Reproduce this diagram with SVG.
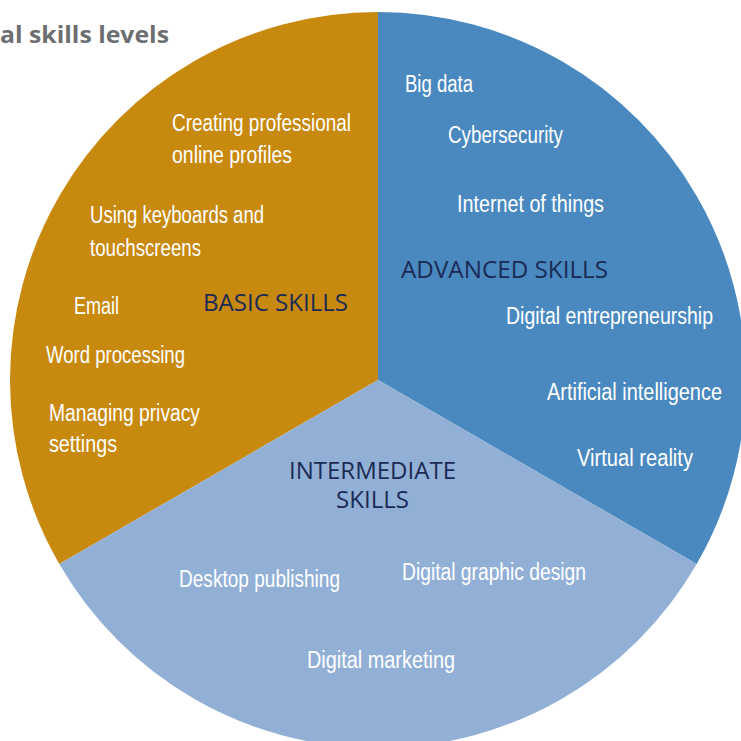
<svg xmlns="http://www.w3.org/2000/svg" width="741" height="741" viewBox="0 0 741 741">
<style>
.lbl{font-family:"Liberation Sans Narrow","Liberation Sans",Arial,sans-serif;font-size:23px;fill:#ffffff}
.hd{font-family:"Open Sans","Liberation Sans",Arial,sans-serif;font-size:23px;fill:#1b2a55}
.title{font-family:"Open Sans","Liberation Sans",Arial,sans-serif;font-size:24px;font-weight:bold;fill:#6d6e71}
</style>
<rect width="741" height="741" fill="#ffffff"/>
<text class="title" x="0" y="43" textLength="169" lengthAdjust="spacingAndGlyphs">al skills levels</text>
<g id="basic">
<path d="M378,380 L378,12 A368,368 0 0,0 59.3,564 Z" fill="#c8890f"/>
<text class="hd" x="203" y="311" textLength="145" lengthAdjust="spacingAndGlyphs">BASIC SKILLS</text>
<text class="lbl" x="172" y="131" textLength="179" lengthAdjust="spacingAndGlyphs">Creating professional</text>
<text class="lbl" x="172" y="163" textLength="120" lengthAdjust="spacingAndGlyphs">online profiles</text>
<text class="lbl" x="90" y="223" textLength="174" lengthAdjust="spacingAndGlyphs">Using keyboards and</text>
<text class="lbl" x="90" y="256" textLength="111" lengthAdjust="spacingAndGlyphs">touchscreens</text>
<text class="lbl" x="74" y="314" textLength="45" lengthAdjust="spacingAndGlyphs">Email</text>
<text class="lbl" x="46" y="363" textLength="139" lengthAdjust="spacingAndGlyphs">Word processing</text>
<text class="lbl" x="49" y="421" textLength="151" lengthAdjust="spacingAndGlyphs">Managing privacy</text>
<text class="lbl" x="49" y="452" textLength="68" lengthAdjust="spacingAndGlyphs">settings</text>
</g>
<g id="advanced">
<path d="M378,380 L378,12 A368,368 0 0,1 696.7,564 Z" fill="#4a89bf"/>
<text class="hd" x="401" y="278" textLength="207" lengthAdjust="spacingAndGlyphs">ADVANCED SKILLS</text>
<text class="lbl" x="405" y="92" textLength="68" lengthAdjust="spacingAndGlyphs">Big data</text>
<text class="lbl" x="448" y="143" textLength="115" lengthAdjust="spacingAndGlyphs">Cybersecurity</text>
<text class="lbl" x="457" y="212" textLength="147" lengthAdjust="spacingAndGlyphs">Internet of things</text>
<text class="lbl" x="506" y="324" textLength="207" lengthAdjust="spacingAndGlyphs">Digital entrepreneurship</text>
<text class="lbl" x="547" y="400" textLength="175" lengthAdjust="spacingAndGlyphs">Artificial intelligence</text>
<text class="lbl" x="577" y="466" textLength="116" lengthAdjust="spacingAndGlyphs">Virtual reality</text>
</g>
<g id="intermediate">
<path d="M378,380 L696.7,564 A368,368 0 0,1 59.3,564 Z" fill="#92b0d6"/>
<text class="hd" x="289" y="479" textLength="167" lengthAdjust="spacingAndGlyphs">INTERMEDIATE</text>
<text class="hd" x="336" y="508" textLength="73" lengthAdjust="spacingAndGlyphs">SKILLS</text>
<text class="lbl" x="179" y="587" textLength="161" lengthAdjust="spacingAndGlyphs">Desktop publishing</text>
<text class="lbl" x="402" y="580" textLength="184" lengthAdjust="spacingAndGlyphs">Digital graphic design</text>
<text class="lbl" x="307" y="668" textLength="148" lengthAdjust="spacingAndGlyphs">Digital marketing</text>
</g>
</svg>
